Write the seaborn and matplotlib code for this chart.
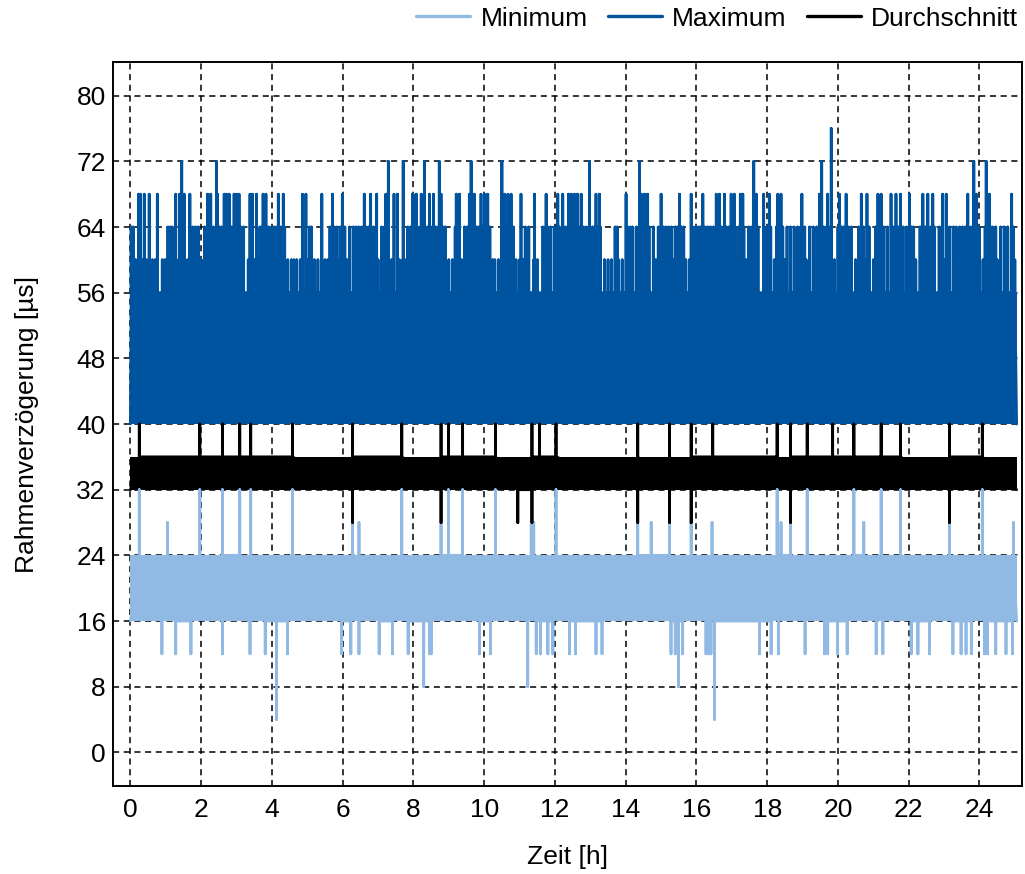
import matplotlib
matplotlib.use('Agg')

import pandas as pd
import matplotlib.pyplot as plt
import seaborn as sns

sns.set_theme(style="white")
plt.rcParams['font.family'] = ['Liberation Sans', 'DejaVu Sans']
plt.rcParams['text.color'] = 'black'

# Messzeitraum [h]
t_start, t_end = 0.0, 25.05

# dichte Bänder (unten, oben) je Kurve, in µs
min_band = (16, 24)
max_band = (40, 56)
avg_band = (32, 36)

# Maximum: Ausreißer nach oben (Zeitpunkte in h, je Niveau)
max_76 = [19.81]
max_72 = [1.45, 2.43, 7.29, 7.71, 8.31, 8.73, 9.63, 10.50, 12.98, 14.39,
          17.62, 19.54, 23.84, 24.19]
max_68 = [0.23, 0.28, 0.39, 0.53, 0.76, 1.28, 1.39, 1.52, 1.68, 2.18, 2.27,
          2.46, 2.65, 2.71, 2.79, 2.93, 3.00, 3.07, 3.38, 3.45, 3.56, 3.75,
          3.83, 4.18, 4.32, 4.86, 4.96, 5.41, 5.71, 5.99, 6.61, 6.79, 6.96,
          7.22, 7.45, 7.55, 7.97, 8.07, 8.08, 8.22, 8.45, 8.57, 8.78, 9.21,
          9.30, 9.58, 9.72, 9.91, 10.01, 10.10, 10.57, 10.67, 10.76, 11.04,
          11.42, 11.75, 12.08, 12.22, 12.38, 12.46, 12.55, 12.64, 12.74,
          13.16, 13.26, 14.01, 14.44, 14.53, 14.62, 15.00, 15.52, 15.85,
          16.18, 16.56, 16.65, 16.79, 16.98, 17.07, 17.24, 17.31, 17.69,
          17.90, 18.06, 18.30, 18.39, 18.98, 19.48, 19.71, 20.04, 20.23,
          20.66, 20.82, 21.13, 21.22, 21.50, 21.64, 21.77, 22.02, 22.40,
          22.54, 22.68, 22.96, 23.06, 23.67, 23.91, 24.28, 24.91]
max_64 = [0.02, 0.08, 1.06, 1.12, 1.18, 1.76, 1.84, 1.92, 2.10, 2.20, 2.34,
          2.42, 2.52, 2.58, 2.86, 2.96, 3.04, 3.12, 3.20, 3.66, 3.72, 3.80,
          3.90, 3.98, 4.06, 4.14, 4.24, 4.36, 5.06, 5.12, 5.64, 5.76, 5.84,
          5.94, 6.06, 6.20, 6.30, 6.38, 6.46, 6.54, 6.66, 6.74, 6.86, 7.10,
          7.18, 7.28, 7.84, 7.92, 8.02, 8.12, 8.20, 8.30, 8.40, 8.50, 8.62,
          8.70, 8.84, 8.90, 9.18, 9.26, 9.44, 9.52, 9.64, 9.78, 9.84, 9.96,
          10.06, 10.16, 10.50, 10.62, 10.72, 10.82, 11.16, 11.26, 11.66,
          11.80, 11.88, 11.98, 12.12, 12.30, 12.42, 12.60, 12.68, 12.80,
          12.88, 12.96, 13.06, 13.12, 13.22, 13.28, 13.70, 13.76, 14.06,
          14.14, 14.20, 14.30, 14.50, 14.66, 14.78, 14.92, 15.06, 15.14,
          15.22, 15.30, 15.40, 15.46, 15.58, 15.64, 15.90, 15.98, 16.06,
          16.12, 16.24, 16.32, 16.40, 16.48, 16.60, 16.70, 16.76, 16.84,
          16.92, 17.02, 17.10, 17.20, 17.34, 17.48, 17.56, 17.74, 17.92,
          18.00, 18.10, 18.26, 18.36, 18.44, 18.56, 18.66, 18.76, 18.86,
          18.94, 19.06, 19.20, 19.30, 19.40, 19.58, 19.66, 19.78, 20.00,
          20.10, 20.16, 20.30, 20.38, 20.58, 20.72, 20.88, 21.06, 21.18,
          21.30, 21.40, 21.56, 21.70, 21.84, 21.94, 22.08, 22.14, 22.32,
          22.46, 22.62, 22.72, 22.86, 23.16, 23.26, 23.34, 23.44, 23.52,
          23.60, 23.76, 23.88, 24.00, 24.16, 24.36, 24.46, 24.60, 24.70,
          24.80, 24.96]
max_60 = [0.15, 0.35, 0.45, 0.62, 0.70, 0.90, 0.98, 1.30, 1.40, 1.55, 1.62,
          2.00, 2.30, 2.74, 2.88, 3.33, 3.50, 3.58, 4.00, 4.45, 4.55, 4.62,
          4.70, 4.80, 5.00, 5.20, 5.30, 5.40, 5.50, 5.58, 5.90, 6.12, 6.60,
          6.95, 7.00, 7.38, 7.45, 7.60, 7.70, 7.76, 8.15, 8.55, 9.00, 9.10,
          9.36, 9.70, 10.24, 10.30, 10.40, 10.90, 11.00, 11.10, 11.40, 11.50,
          11.70, 12.20, 12.50, 13.00, 13.40, 13.50, 13.60, 13.80, 13.90,
          14.40, 14.85, 15.35, 15.70, 15.80, 16.00, 16.50, 17.15, 17.40,
          17.60, 18.20, 18.50, 19.00, 19.10, 19.50, 19.90, 20.25, 20.50,
          20.80, 21.00, 21.50, 22.00, 22.20, 22.50, 22.90, 23.00, 23.10,
          23.40, 23.70, 24.10, 24.50, 24.80, 25.00]

# Durchschnitt: Ausreißer nach oben (40) und unten (28)
avg_40 = [0.25, 1.96, 2.60, 3.09, 3.40, 4.58, 6.28, 7.67, 8.78, 8.99, 9.39,
          10.32, 11.35, 11.56, 12.03, 14.34, 15.24, 15.85, 16.46, 18.28,
          18.66, 19.13, 19.85, 20.45, 21.22, 21.77, 23.15, 24.08]
avg_28 = [6.28, 8.78, 10.95, 11.35, 14.34, 15.24, 15.85, 18.66, 23.15]

# Minimum: Ausreißer nach oben (32, 28) und unten (12, 8, 4)
min_32 = [0.25, 1.96, 2.60, 3.09, 3.40, 4.58, 7.67, 8.99, 9.39, 10.32,
          12.03, 18.28, 19.13, 20.45, 21.22, 21.77, 24.08]
min_28 = [1.05, 6.28, 6.46, 8.78, 11.33, 11.40, 14.34, 14.72, 15.24, 15.85,
          16.44, 18.39, 18.66, 20.73, 23.15, 24.96]
min_12 = [0.89, 1.28, 1.71, 2.60, 3.38, 3.81, 4.44, 5.97, 6.23, 6.46, 7.03,
          7.41, 7.85, 8.45, 8.50, 9.87, 10.18, 11.47, 11.59, 11.80, 11.94,
          12.41, 12.58, 13.16, 13.33, 15.28, 15.40, 15.61, 16.27, 16.34,
          16.41, 17.78, 18.11, 18.32, 19.07, 19.62, 19.71, 19.99, 20.26,
          21.08, 21.27, 22.07, 22.26, 22.59, 23.25, 23.48, 23.62, 23.77,
          24.14, 24.23, 24.46, 24.75, 24.93]
min_8 = [8.29, 11.23, 15.49]
min_4 = [4.13, 16.51]

colors = {'Minimum': '#90b9e4', 'Maximum': '#00549f', 'Durchschnitt': '#000000'}


def build_path(name, band, levels):
    # Pfad: entlang des Bandes, bei jedem Ausreißer senkrecht hin und zurück
    lo, hi = band
    events = sorted((t, v) for v, times in levels.items() for t in times)
    rows = [(t_start, lo)]
    for t, v in events:
        base = hi if v > hi else lo
        rows += [(t, base), (t, v), (t, base)]
    rows.append((t_end, lo))
    return pd.DataFrame(rows, columns=['Zeit', 'Wert']).assign(Reihe=name)


df = pd.concat([
    build_path('Minimum', min_band, {32: min_32, 28: min_28, 12: min_12, 8: min_8, 4: min_4}),
    build_path('Maximum', max_band, {76: max_76, 72: max_72, 68: max_68, 64: max_64, 60: max_60}),
    build_path('Durchschnitt', avg_band, {40: avg_40, 28: avg_28}),
], ignore_index=True)

fig = plt.figure(figsize=(10.25, 8.74), dpi=100)
ax = fig.add_axes([0.110, 0.1007, 0.887, 0.8283])

for name, band in [('Minimum', min_band), ('Maximum', max_band), ('Durchschnitt', avg_band)]:
    ax.fill_between([t_start, t_end], band[0], band[1], color=colors[name], lw=0)

sns.lineplot(data=df, x='Zeit', y='Wert', hue='Reihe', palette=colors,
             hue_order=['Minimum', 'Maximum', 'Durchschnitt'],
             estimator=None, sort=False, lw=2.0, ax=ax)

ax.set_xlim(-0.5, 25.2)
ax.set_ylim(-4.1, 84.1)
ax.set_xticks(range(0, 25, 2))
ax.set_yticks(range(0, 81, 8))
ax.tick_params(length=0, labelsize=19, colors='black')
ax.tick_params(axis='x', pad=9)
ax.tick_params(axis='y', pad=5)

ax.set_axisbelow(True)
ax.grid(True, color='black', linestyle=(0, (4, 3)), lw=1.1)
for s in ax.spines.values():
    s.set_color('black')
    s.set_linewidth(1.4)

ax.set_xlabel('Zeit [h]', fontsize=19, labelpad=16, color='black')
ax.set_ylabel('Rahmenverzögerung [µs]', fontsize=19, labelpad=27, color='black')

handles, labels = ax.get_legend_handles_labels()
ax.get_legend().remove()
leg = fig.legend(handles, labels, loc='upper right', bbox_to_anchor=(1.0, 1.0),
                 ncol=3, frameon=False, fontsize=19, handlelength=2.05,
                 handletextpad=0.4, columnspacing=0.75, borderaxespad=0.1,
                 borderpad=0.15)
for h in leg.legend_handles:
    h.set_linewidth(2.4)

fig.savefig('out.png', dpi=100)
